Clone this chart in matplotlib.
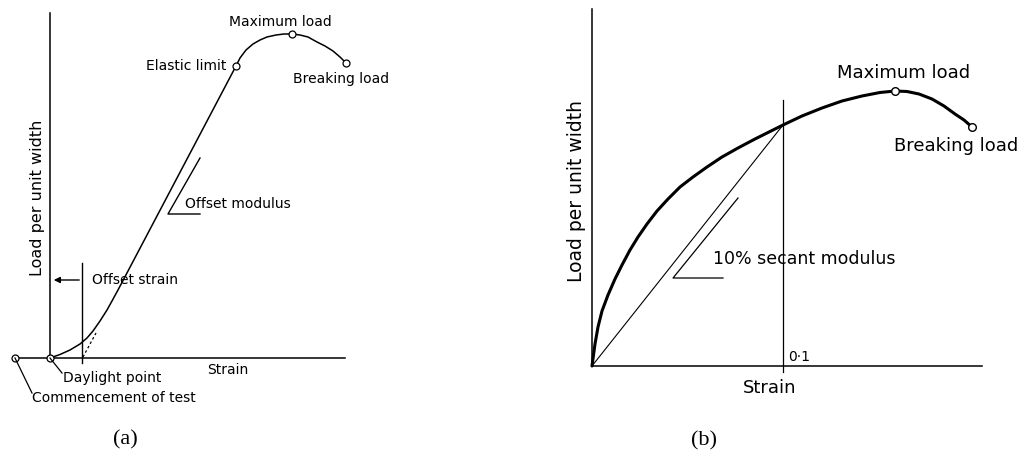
import matplotlib.pyplot as plt

# ---- panel (a): load vs strain with toe region ----
a_strain = [0, 10, 20, 30, 37, 43, 50, 57, 62, 68, 186, 190, 196, 203, 210, 217,
            226, 234, 242, 250, 258, 267, 275, 283, 290, 296]
a_load = [0, 3.5, 8, 14, 20, 27, 37, 48, 57, 68, 292, 300, 308, 314, 318, 321,
          323, 324, 324, 323, 321, 316, 312, 307, 301, 295]
a_points_x = [-35, 0, 186, 242, 296]   # commencement, daylight, elastic, max, break
a_points_y = [0, 0, 292, 324, 295]
a_offset = 32          # offset strain
a_dash_x = [33, 46]
a_dash_y = [1, 25]
a_mod_x = [150, 118, 150]
a_mod_y = [200, 144, 144]

# ---- panel (b): concave curve with secant ----
b_strain = [0, 3, 6, 10, 16, 23, 30, 38, 46, 55, 65, 76, 88, 101, 115, 130, 146,
            163, 177, 191, 210, 230, 250, 270, 288, 303, 315, 327, 340, 352, 363,
            372, 380]
b_load = [0, 22, 39, 55, 71, 87, 101, 116, 129, 142, 155, 167, 179, 189, 199, 209,
          218, 227, 234, 241, 250, 258, 265, 270, 273.5, 275, 274.5, 272, 267, 260,
          252, 246, 239]
b_points_x = [303, 380]
b_points_y = [275, 239]
b_secant_x = [0, 191]
b_secant_y = [0, 241]
b_mod_x = [146, 81, 131]
b_mod_y = [168, 88, 88]

fig = plt.figure(figsize=(10.23, 4.66), dpi=100)
fig.patch.set_facecolor("white")

txt = dict(family="DejaVu Sans", color="black")

# panel a
ax = fig.add_axes([0, 0, 420 / 1023, 1])
ax.set_xlim(-50, 370)
ax.set_ylim(-108, 358)
ax.axis("off")
ax.plot([0, 0], [0, 345], color="black", lw=1.1)
ax.plot([-35, 295], [0, 0], color="black", lw=1.1)
ax.plot(a_strain, a_load, color="black", lw=1.1)
ax.plot(a_points_x, a_points_y, "o", ms=5, mfc="white", mec="black", mew=0.9)
ax.plot([a_offset, a_offset], [-5, 95], color="black", lw=1.0)
ax.annotate("", xy=(1, 78), xytext=(a_offset, 78),
            arrowprops=dict(arrowstyle="-|>", color="black", lw=1.0, mutation_scale=9))
ax.plot(a_dash_x, a_dash_y, color="black", lw=0.9, ls=(0, (2, 2)))
ax.plot(a_mod_x, a_mod_y, color="black", lw=1.0)
ax.plot([0, 12], [0, -15], color="black", lw=0.9)
ax.plot([-35, -18], [0, -35], color="black", lw=0.9)

fs = 10
ax.text(230, 336, "Maximum load", ha="center", va="center", fontsize=fs, **txt)
ax.text(176, 292, "Elastic limit", ha="right", va="center", fontsize=fs, **txt)
ax.text(243, 279, "Breaking load", ha="left", va="center", fontsize=fs, **txt)
ax.text(135, 154, "Offset modulus", ha="left", va="center", fontsize=fs, **txt)
ax.text(42, 78, "Offset strain", ha="left", va="center", fontsize=fs, **txt)
ax.text(178, -12, "Strain", ha="center", va="center", fontsize=fs, **txt)
ax.text(13, -20, "Daylight point", ha="left", va="center", fontsize=fs, **txt)
ax.text(-18, -40, "Commencement of test", ha="left", va="center", fontsize=fs, **txt)
ax.text(-12, 160, "Load per unit width", ha="center", va="center", rotation=90,
        fontsize=11.5, **txt)
ax.text(75, -82, "(a)", ha="center", va="center", fontsize=16,
        family="Liberation Serif", color="black")

# panel b
bx = fig.add_axes([540 / 1023, 0, 483 / 1023, 1])
bx.set_xlim(-52, 431)
bx.set_ylim(-100, 366)
bx.axis("off")
bx.plot([0, 0], [0, 357], color="black", lw=1.1)
bx.plot([0, 390], [0, 0], color="black", lw=1.1)
bx.plot(b_strain, b_load, color="black", lw=2.2, solid_capstyle="round",
        solid_joinstyle="round")
bx.plot(b_points_x, b_points_y, "o", ms=5.5, mfc="white", mec="black", mew=1.0)
bx.plot(b_secant_x, b_secant_y, color="black", lw=0.8)
bx.plot([191, 191], [-6, 266], color="black", lw=0.9)
bx.plot(b_mod_x, b_mod_y, color="black", lw=0.9)

fs = 13
bx.text(312, 293, "Maximum load", ha="center", va="center", fontsize=fs, **txt)
bx.text(302, 220, "Breaking load", ha="left", va="center", fontsize=fs, **txt)
bx.text(121, 107, "10% secant modulus", ha="left", va="center", fontsize=12.5, **txt)
bx.text(196, 9, "0·1", ha="left", va="center", fontsize=10, **txt)
bx.text(178, -22, "Strain", ha="center", va="center", fontsize=fs, **txt)
bx.text(-15, 175, "Load per unit width", ha="center", va="center", rotation=90,
        fontsize=13.5, **txt)
bx.text(112, -75, "(b)", ha="center", va="center", fontsize=16,
        family="Liberation Serif", color="black")

plt.savefig("out.png", dpi=100)
